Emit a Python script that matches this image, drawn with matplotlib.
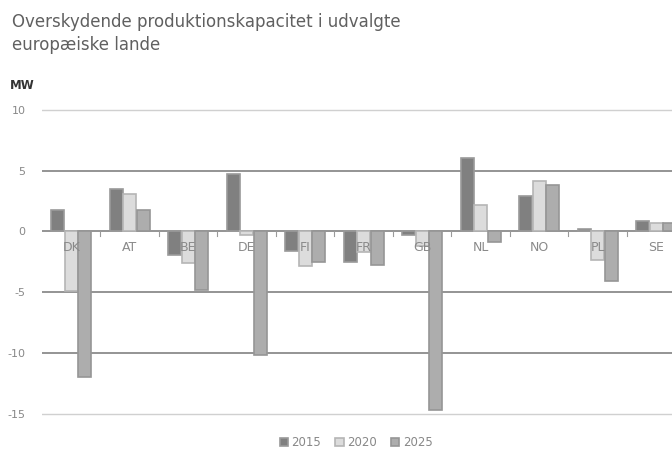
import matplotlib
matplotlib.use("Agg")
import matplotlib.pyplot as plt
import numpy as np

# values (MW)
countries = ["DK", "AT", "BE", "DE", "FI", "FR", "GB", "NL", "NO", "PL", "SE"]
years = ["2015", "2020", "2025"]
v2015 = [1.8, 3.5, -1.9, 4.75, -1.6, -2.5, -0.3, 6.0, 2.9, 0.2, 0.9]
v2020 = [-4.9, 3.1, -2.6, -0.3, -2.8, -1.7, -1.2, 2.2, 4.1, -2.3, 0.7]
v2025 = [-11.9, 1.8, -4.8, -10.1, -2.5, -2.75, -14.6, -0.9, 3.85, -4.1, 0.7]
yticks = [10, 5, 0, -5, -10, -15]

fills = ["#808080", "#dcdcdc", "#adadad"]
edges = ["#9a9a9a", "#b5b5b5", "#969696"]

plt.rcParams["font.family"] = ["DejaVu Sans"]

fig = plt.figure(figsize=(6.72, 4.5), dpi=100)
ax = fig.add_axes([0.0625, 0.071, 0.9375, 0.691])

x = np.arange(len(countries))
w = 0.22
for k, vals in enumerate([v2015, v2020, v2025]):
    ax.bar(x + (k - 1) * (w + 0.01), vals, width=w, color=fills[k],
           edgecolor=edges[k], linewidth=1.2, label=years[k], zorder=3)

# gridlines
for yv in yticks:
    light = yv in (10, -15)
    ax.axhline(yv, color="#d0d0d0" if light else "#777777",
               lw=1.0 if light else 1.1, zorder=1 if light else 2)

# small ticks between groups on the zero line
for xs in x[:-1] + 0.5:
    ax.plot([xs, xs], [0, -0.35], color="#9a9a9a", lw=0.8, zorder=2)

for xi, name in zip(x, countries):
    ax.text(xi, -1.35, name, ha="center", va="center", fontsize=9,
            color="#8a8a8a", zorder=5)

ax.set_xlim(-0.5, 10.27)
ax.set_ylim(-15.3, 10.2)
ax.set_xticks([])
ax.set_yticks(yticks)
ax.set_yticklabels([str(t) for t in yticks], fontsize=8, color="#888888")
ax.tick_params(axis="y", length=0, pad=12)
for s in ax.spines.values():
    s.set_visible(False)

fig.text(0.018, 0.972, "Overskydende produktionskapacitet i udvalgte\neuropæiske lande",
         ha="left", va="top", fontsize=12, color="#606060", linespacing=1.35)
fig.text(0.015, 0.81, "MW", ha="left", va="center", fontsize=8.5,
         color="#333333", fontweight="bold")

leg = fig.legend(loc="lower center", bbox_to_anchor=(0.53, -0.022), ncol=3,
                 frameon=False, fontsize=8.5, handlelength=0.7, handleheight=0.7,
                 handletextpad=0.3, columnspacing=1.2)
for t in leg.get_texts():
    t.set_color("#888888")

fig.savefig("out.png", dpi=100)
